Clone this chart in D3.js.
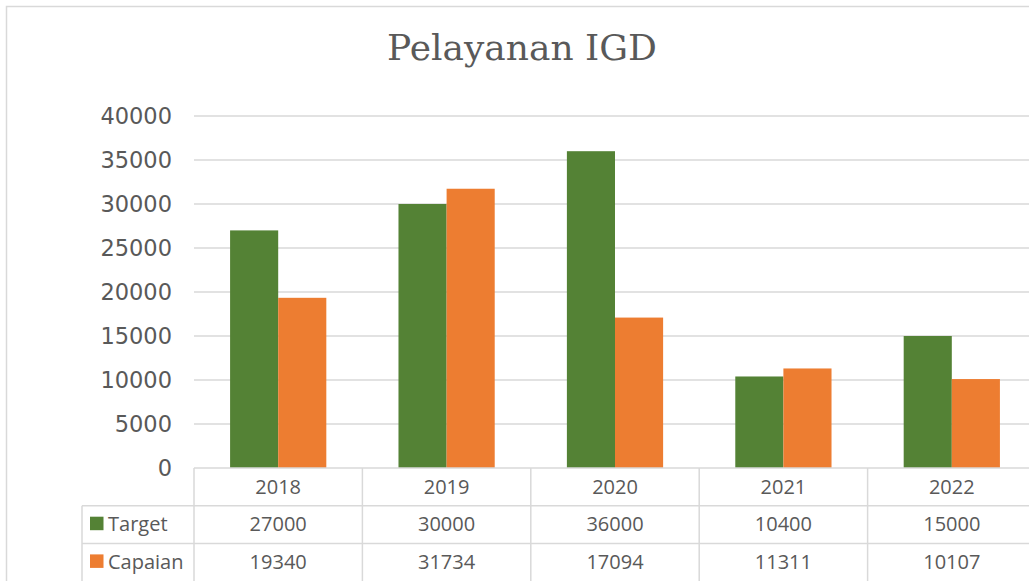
<!DOCTYPE html>
<html>
<head>
<meta charset="utf-8">
<script src="https://cdn.jsdelivr.net/npm/d3@7"></script>
<style>
  body { margin: 0; background: #fff; }
  svg { display: block; }
</style>
</head>
<body>
<div class="chart"></div>
<script>
var years = ['2018', '2019', '2020', '2021', '2022']
var seriesNames = ['Target', 'Capaian']
var target = [27000, 30000, 36000, 10400, 15000]
var capaian = [19340, 31734, 17094, 11311, 10107]
var yTicks = [0, 5000, 10000, 15000, 20000, 25000, 30000, 35000, 40000]
var colors = ['#548235', '#ED7D31']

var width = 1029, height = 581
var grey = '#595959', lineColor = '#d9d9d9'

var svg = d3.select('.chart').append('svg')
  .attr('width', width)
  .attr('height', height)

// chart area frame (only top & left visible in the crop)
svg.append('path')
  .attr('d', 'M 6.5 ' + height + ' V 6.5 H ' + width)
  .attr('fill', 'none')
  .attr('stroke', lineColor)
  .attr('stroke-width', 1.5)

svg.append('text')
  .text('Pelayanan IGD')
  .attr('x', 522)
  .attr('y', 60)
  .attr('text-anchor', 'middle')
  .style('font-family', '"DejaVu Serif", serif')
  .style('font-size', '36px')
  .attr('fill', grey)

var plotLeft = 194
var step = 168.4
var x = d3.scaleBand().domain(years).range([plotLeft, plotLeft + step*years.length])
var xs = d3.scaleBand().domain(seriesNames).range([0, x.bandwidth()]).paddingOuter(0.75)
var y = d3.scaleLinear().domain([0, 40000]).range([468, 116])

// gridlines
svg.append('g').selectAll('line')
  .data(yTicks.filter(d => d > 0))
  .join('line')
  .attr('x1', plotLeft).attr('x2', width)
  .attr('y1', d => y(d)).attr('y2', d => y(d))
  .attr('stroke', lineColor)
  .attr('stroke-width', 1.5)

// y tick labels
svg.append('g').selectAll('text')
  .data(yTicks)
  .join('text')
  .text(d => d)
  .attr('x', 172)
  .attr('y', d => y(d) + 8)
  .attr('text-anchor', 'end')
  .style('font-family', '"DejaVu Sans", sans-serif')
  .style('font-size', '22.5px')
  .attr('fill', grey)

// bars
var series = [target, capaian]
series.forEach((vals, si) => {
  svg.append('g').selectAll('rect')
    .data(vals)
    .join('rect')
    .attr('x', (d, i) => x(years[i]) + xs(seriesNames[si]))
    .attr('width', xs.bandwidth())
    .attr('y', d => y(d))
    .attr('height', d => y(0) - y(d))
    .attr('fill', colors[si])
})

// data table
var rowTop = 468, rowH = 37.7, tableLeft = 82
var tbl = svg.append('g')
  .attr('stroke', lineColor)
  .attr('stroke-width', 1.5)

tbl.append('line')
  .attr('x1', plotLeft).attr('x2', width)
  .attr('y1', rowTop).attr('y2', rowTop)

d3.range(1, 3).forEach(r => {
  tbl.append('line')
    .attr('x1', tableLeft).attr('x2', width)
    .attr('y1', rowTop + r*rowH).attr('y2', rowTop + r*rowH)
})

tbl.append('line')
  .attr('x1', tableLeft).attr('x2', tableLeft)
  .attr('y1', rowTop + rowH).attr('y2', height)

tbl.selectAll('line.v')
  .data(years.concat(['end']))
  .join('line')
  .attr('class', 'v')
  .attr('x1', (d, i) => plotLeft + i*step).attr('x2', (d, i) => plotLeft + i*step)
  .attr('y1', rowTop).attr('y2', height)

var tableFont = '"Open Sans", sans-serif'

svg.append('g').selectAll('text')
  .data(years)
  .join('text')
  .text(d => d)
  .attr('x', d => x(d) + x.bandwidth()/2)
  .attr('y', rowTop + 26)
  .attr('text-anchor', 'middle')
  .style('font-family', tableFont)
  .style('font-size', '20px')
  .attr('fill', grey)

series.forEach((vals, si) => {
  var ry = rowTop + (si + 1)*rowH
  var g = svg.append('g')

  g.append('rect')
    .attr('x', 90).attr('y', ry + 11)
    .attr('width', 13.5).attr('height', 13.5)
    .attr('fill', colors[si])

  g.append('text')
    .text(seriesNames[si])
    .attr('x', 108)
    .attr('y', ry + 25.5)
    .style('font-family', tableFont)
    .style('font-size', '20px')
    .attr('fill', grey)

  g.selectAll('text.v')
    .data(vals)
    .join('text')
    .attr('class', 'v')
    .text(d => d)
    .attr('x', (d, i) => x(years[i]) + x.bandwidth()/2)
    .attr('y', ry + 25.5)
    .attr('text-anchor', 'middle')
    .style('font-family', tableFont)
    .style('font-size', '20px')
    .attr('fill', grey)
})
</script>
</body>
</html>
